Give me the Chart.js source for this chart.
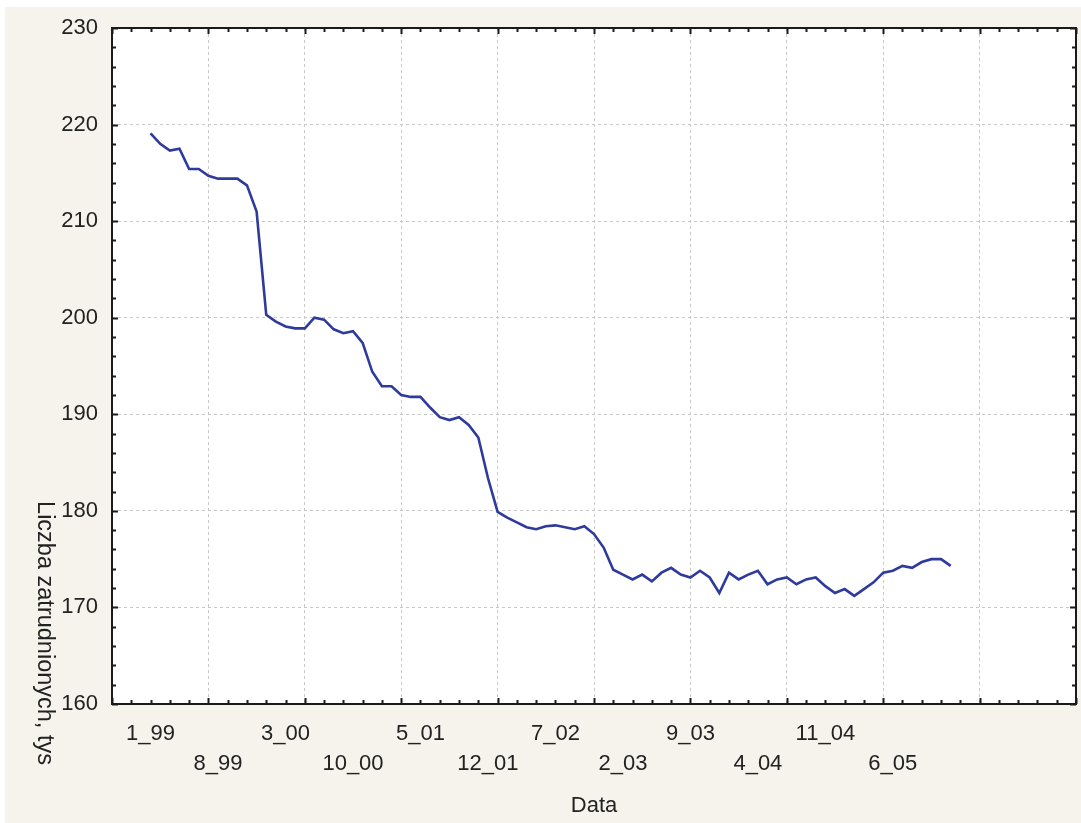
<!DOCTYPE html>
<html>
<head>
<meta charset="utf-8">
<script src="https://cdn.jsdelivr.net/npm/chart.js@4.4.0/dist/chart.umd.min.js"></script>
<style>
    html, body { margin: 0; padding: 0; background: #ffffff; }
    #wrap { width: 1081px; height: 823px; }
</style>
</head>
<body>
<div id="wrap"><canvas id="chart"></canvas></div>
<script>
// Employment, thousands – monthly 1_99 .. 12_05
const employment = [
    219.1, 218.0, 217.3, 217.5, 215.4, 215.4, 214.7, 214.4, 214.4, 214.4, 213.7, 211.0,
    200.3, 199.6, 199.1, 198.9, 198.9, 200.0, 199.8, 198.8, 198.4, 198.6, 197.4, 194.4,
    192.9, 192.9, 192.0, 191.8, 191.8, 190.7, 189.7, 189.4, 189.7, 188.9, 187.6, 183.4,
    179.9, 179.3, 178.8, 178.3, 178.1, 178.4, 178.5, 178.3, 178.1, 178.4, 177.6, 176.2,
    173.9, 173.4, 172.9, 173.4, 172.7, 173.6, 174.1, 173.4, 173.1, 173.8, 173.1, 171.5,
    173.6, 172.9, 173.4, 173.8, 172.4, 172.9, 173.1, 172.4, 172.9, 173.1, 172.2, 171.5,
    171.9, 171.2, 171.9, 172.6, 173.6, 173.8, 174.3, 174.1, 174.7, 175.0, 175.0, 174.3
];

// x-axis labels (every 7th month) and the month index they belong to
const tickLabels = ['1_99', '8_99', '3_00', '10_00', '5_01', '12_01', '7_02', '2_03', '9_03', '4_04', '11_04', '6_05'];
const tickMonths = [0, 7, 14, 21, 28, 35, 42, 49, 56, 63, 70, 77];

const yTicks = [160, 170, 180, 190, 200, 210, 220, 230];

const X_OFFSET = 4;   // first case sits at 4 on the 0..100 case axis
const FONT = 'Liberation Sans, Arial, sans-serif';
const TEXT = '#222222';

const points = employment.map((v, i) => ({ x: X_OFFSET + i, y: v }));

// Background, frame, inward ticks, rotated y title
const decor = {
    id: 'decor',
    beforeDraw(chart) {
        const { ctx, chartArea: a } = chart;
        ctx.save();
        ctx.fillStyle = '#f6f3ec';
        ctx.fillRect(5, 7, chart.width - 5, chart.height - 7);
        ctx.fillStyle = '#ffffff';
        ctx.fillRect(a.left, a.top, a.right - a.left, a.bottom - a.top);
        ctx.restore();
    },
    afterDraw(chart) {
        const { ctx, chartArea: a } = chart;
        const xs = chart.scales.x, ys = chart.scales.y;
        ctx.save();
        ctx.strokeStyle = '#1a1a1a';
        ctx.lineWidth = 2;
        ctx.beginPath();
        for (let v = 0; v <= 100; v += 2) {
            const px = Math.round(xs.getPixelForValue(v)) + 0.5;
            const len = v % 10 === 0 ? 6 : 4;
            ctx.moveTo(px, a.bottom); ctx.lineTo(px, a.bottom - len);
            ctx.moveTo(px, a.top); ctx.lineTo(px, a.top + len);
        }
        for (let v = 160; v <= 230; v += 2) {
            const py = Math.round(ys.getPixelForValue(v)) + 0.5;
            const len = v % 10 === 0 ? 6 : 4;
            ctx.moveTo(a.left, py); ctx.lineTo(a.left + len, py);
            ctx.moveTo(a.right, py); ctx.lineTo(a.right - len, py);
        }
        ctx.stroke();
        ctx.strokeRect(a.left, a.top, a.right - a.left, a.bottom - a.top);

        // y title reads top to bottom
        ctx.translate(44, 633);
        ctx.rotate(Math.PI / 2);
        ctx.fillStyle = TEXT;
        ctx.font = '23.5px ' + FONT;
        ctx.textAlign = 'center';
        ctx.textBaseline = 'middle';
        ctx.fillText('Liczba zatrudnionych, tys', 0, 0);
        ctx.restore();
    }
};

new Chart(document.getElementById('chart'), {
    type: 'line',
    data: {
        datasets: [{
            label: 'Liczba zatrudnionych',
            data: points,
            borderColor: '#2e3a9c',
            borderWidth: 2.6,
            pointRadius: 0,
            tension: 0,
            fill: false
        }]
    },
    options: {
        responsive: true,
        maintainAspectRatio: false,
        animation: false,
        layout: { padding: { left: 5, top: 28, right: 5, bottom: 0 } },
        plugins: {
            legend: { display: false },
            tooltip: { enabled: false }
        },
        scales: {
            x: {
                type: 'linear',
                position: 'bottom',
                min: 0,
                max: 100,
                afterBuildTicks: (s) => {
                    s.ticks = [10, 20, 30, 40, 50, 60, 70, 80, 90].map(v => ({ value: v }));
                },
                afterFit: (s) => { s.height = 0; },
                ticks: { display: false },
                grid: {
                    color: '#c8c8c8',
                    lineWidth: 1,
                    drawTicks: false
                },
                border: { display: false, dash: [3, 3] }
            },
            xl: {
                type: 'linear',
                position: 'bottom',
                min: 0,
                max: 100,
                afterBuildTicks: (s) => {
                    s.ticks = tickMonths.map(m => ({ value: X_OFFSET + m }));
                },
                afterFit: (s) => { s.height = 119; },
                ticks: {
                    autoSkip: false,
                    maxRotation: 0,
                    padding: 15,
                    color: TEXT,
                    font: { family: FONT, size: 22, lineHeight: 1.37 },
                    callback: (value) => {
                        const k = tickMonths.indexOf(value - X_OFFSET);
                        if (k < 0) return '';
                        return k % 2 === 0 ? [tickLabels[k], ''] : ['', tickLabels[k]];
                    }
                },
                grid: { display: false, drawTicks: false },
                border: { display: false },
                title: {
                    display: true,
                    text: 'Data',
                    color: TEXT,
                    font: { family: FONT, size: 22 },
                    padding: { top: 0, bottom: 4 }
                }
            },
            y: {
                min: 160,
                max: 230,
                afterBuildTicks: (s) => {
                    s.ticks = yTicks.map(v => ({ value: v }));
                },
                afterFit: (s) => { s.width = 107; },
                ticks: {
                    padding: 14,
                    color: TEXT,
                    font: { family: FONT, size: 22 }
                },
                grid: {
                    color: (c) => (c.tick && (c.tick.value === 160 || c.tick.value === 230)) ? 'rgba(0,0,0,0)' : '#c8c8c8',
                    lineWidth: 1,
                    drawTicks: false
                },
                border: { display: false, dash: [3, 3] }
            }
        }
    },
    plugins: [decor]
});
</script>
</body>
</html>
